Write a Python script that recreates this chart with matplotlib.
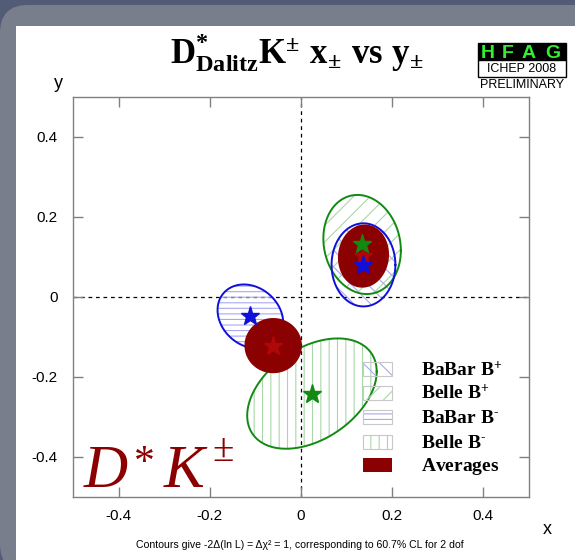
import numpy as np
import matplotlib
matplotlib.use("Agg")
import matplotlib.pyplot as plt
from matplotlib.patches import Rectangle, FancyBboxPatch
from matplotlib.transforms import IdentityTransform

plt.rcParams['font.family'] = ['Liberation Sans', 'DejaVu Sans']
plt.rcParams['mathtext.fontset'] = 'custom'
plt.rcParams['mathtext.rm'] = 'Liberation Serif:bold'
plt.rcParams['mathtext.bf'] = 'Liberation Serif:bold'
plt.rcParams['mathtext.it'] = 'Liberation Serif:bold'
plt.rcParams['hatch.linewidth'] = 0.8

# ---- measurements: centre, 1-sigma widths and correlation of (x, y) ----
meas_names = ['BaBar B+', 'Belle B+', 'BaBar B-', 'Belle B-']
meas_x = [0.137, 0.134, -0.111, 0.024]
meas_y = [0.080, 0.131, -0.049, -0.242]
meas_sx = [0.070, 0.085, 0.072, 0.142]
meas_sy = [0.104, 0.124, 0.080, 0.138]
meas_rho = [0.00, -0.12, -0.20, 0.40]

# ---- world averages for B+ and B- ----
avg_x = [0.137, -0.061]
avg_y = [0.102, -0.122]
avg_sx = [0.056, 0.063]
avg_sy = [0.079, 0.069]
avg_rho = [0.05, 0.00]

legend_labels = [r'$\mathbf{BaBar\ B^{+}}$', r'$\mathbf{Belle\ B^{+}}$',
                 r'$\mathbf{BaBar\ B^{\text{-}}}$', r'$\mathbf{Belle\ B^{\text{-}}}$',
                 r'$\mathbf{Averages}$']
tick_vals = [-0.4, -0.2, 0.0, 0.2, 0.4]
tick_labels = ['-0.4', '-0.2', '0', '0.2', '0.4']

BLUE = '#1010d8'
GREEN = '#128a12'
BLUE_H = '#a8a8f0'
GREEN_H = '#a8d8a8'
DARKRED = '#8b0000'
STARRED = '#b00808'

styles = {
    'BaBar B+': dict(line=BLUE, hatch_col=BLUE_H, hatch='\\\\', star=BLUE),
    'Belle B+': dict(line=GREEN, hatch_col=GREEN_H, hatch='//', star=GREEN),
    'BaBar B-': dict(line=BLUE, hatch_col=BLUE_H, hatch='---', star=BLUE),
    'Belle B-': dict(line=GREEN, hatch_col=GREEN_H, hatch='||', star=GREEN),
}

W, H = 575, 560


def fx(px):
    return px / W


def fy(py):
    return 1 - py / H


def contour(x0, y0, sx, sy, r, n=300):
    t = np.linspace(0, 2 * np.pi, n)
    return x0 + sx * np.cos(t), y0 + sy * (r * np.cos(t) + np.sqrt(1 - r * r) * np.sin(t))


fig = plt.figure(figsize=(W / 100, H / 100), dpi=100, facecolor='#525c76')

# framed background panels
fig.add_artist(FancyBboxPatch((0, -12), 640, 567, boxstyle='round,pad=0,rounding_size=28',
                              transform=IdentityTransform(), facecolor='#787e8c',
                              edgecolor='none', zorder=-10))
fig.add_artist(Rectangle((16, 0), W - 16, H - 26, transform=IdentityTransform(),
                         facecolor='white', edgecolor='none', zorder=-9))

ax = fig.add_axes([fx(73), fy(496.7), 456 / W, 399.7 / H])
ax.set_facecolor('none')
ax.set_xlim(-0.5, 0.5)
ax.set_ylim(-0.5, 0.5)

ax.axhline(0, color='black', lw=0.9, ls=(0, (3, 3)), zorder=1)
ax.axvline(0, color='black', lw=0.9, ls=(0, (3, 3)), zorder=1)

draw_order = ['Belle B-', 'BaBar B-', 'Belle B+', 'BaBar B+']
for name in draw_order:
    i = meas_names.index(name)
    st = styles[name]
    xs, ys = contour(meas_x[i], meas_y[i], meas_sx[i], meas_sy[i], meas_rho[i])
    ax.fill(xs, ys, facecolor='none', edgecolor=st['hatch_col'], hatch=st['hatch'],
            linewidth=0, zorder=2)
    ax.plot(xs, ys, color=st['line'], lw=1.4, zorder=3)

for k in range(2):
    xs, ys = contour(avg_x[k], avg_y[k], avg_sx[k], avg_sy[k], avg_rho[k])
    ax.fill(xs, ys, facecolor=DARKRED, edgecolor='none', zorder=4)

for i, name in enumerate(meas_names):
    ax.plot(meas_x[i], meas_y[i], marker='*', ms=14, color=styles[name]['star'],
            ls='none', zorder=6)
ax.plot(avg_x, avg_y, marker='*', ms=14, color=STARRED, ls='none', zorder=5)

ax.set_xticks(tick_vals)
ax.set_xticklabels(tick_labels)
ax.set_yticks(tick_vals)
ax.set_yticklabels(tick_labels)
ax.tick_params(direction='in', top=True, right=True, length=7, width=1, color='#808080',
               labelsize=11)
ax.tick_params(axis='y', pad=11)
ax.tick_params(axis='x', pad=9)
for sp in ax.spines.values():
    sp.set_color('#808080')
    sp.set_linewidth(1)

# legend boxes
def ax_x(px):
    return (px - 73) / 456


def ax_y(py):
    return (496.7 - py) / 399.7


row_py = [369.5, 393.0, 417.3, 441.8, 465.0]
for j, lab in enumerate(legend_labels):
    cy = row_py[j]
    x0, y0 = ax_x(362.7), ax_y(cy + 7)
    w, h = 29 / 456, 14 / 399.7
    if j < 4:
        st = styles[meas_names[j]]
        ax.add_patch(Rectangle((x0, y0), w, h, transform=ax.transAxes, facecolor='none',
                               edgecolor=st['hatch_col'], hatch=st['hatch'], lw=0, zorder=7))
        ax.add_patch(Rectangle((x0, y0), w, h, transform=ax.transAxes, facecolor='none',
                               edgecolor='#c8c8c8', lw=0.8, zorder=7))
    else:
        ax.add_patch(Rectangle((x0, y0), w, h, transform=ax.transAxes, facecolor=DARKRED,
                               edgecolor='none', zorder=7))
    ax.text(ax_x(421), ax_y(cy + 6), lab, transform=ax.transAxes, fontsize=14,
            ha='left', va='baseline', zorder=8)

# decay mode label
big = dict(family='Liberation Serif', color=DARKRED, va='baseline', ha='left')
fig.text(fx(84), fy(486.7), 'D', fontsize=44, style='italic', **big)
fig.text(fx(134), fy(474), '*', fontsize=30, **big)
fig.text(fx(164), fy(486.7), 'K', fontsize=44, style='italic', **big)
fig.text(fx(212), fy(461), '\u00b1', fontsize=28, **big)

# title
fig.text(fx(297), fy(64), r'$\mathbf{D^{*}_{Dalitz}K^{\pm}\ x_{\pm}\ vs\ y_{\pm}}$',
         fontsize=25, ha='center', va='baseline')

# axis names
fig.text(fx(58), fy(83), 'y', fontsize=13, ha='center', va='center')
fig.text(fx(547), fy(529), 'x', fontsize=13, ha='center', va='center')

# footnote
fig.text(fx(300), fy(545),
         'Contours give -2\u0394(ln L) = \u0394\u03c7\u00b2 = 1, corresponding to 60.7% CL for 2 dof',
         fontsize=7.6, ha='center', va='center')

# HFAG badge
fig.add_artist(Rectangle((478, H - 60), 88, 17.3, transform=IdentityTransform(),
                         facecolor='black', edgecolor='black', lw=1, zorder=5))
fig.add_artist(Rectangle((478, H - 76.7), 88, 16.7, transform=IdentityTransform(),
                         facecolor='white', edgecolor='black', lw=1, zorder=5))
for letter, cx in zip('HFAG', [487.5, 507.5, 528.5, 552.5]):
    fig.text(fx(cx), fy(58.5), letter, fontsize=14, fontweight='bold', color='#33ee33',
             ha='center', va='baseline', zorder=6)
fig.text(fx(522), fy(68.5), 'ICHEP 2008', fontsize=9, ha='center', va='center', zorder=6)
fig.text(fx(522), fy(84.5), 'PRELIMINARY', fontsize=9, ha='center', va='center', zorder=6)

fig.savefig('out.png', dpi=100, facecolor=fig.get_facecolor())
